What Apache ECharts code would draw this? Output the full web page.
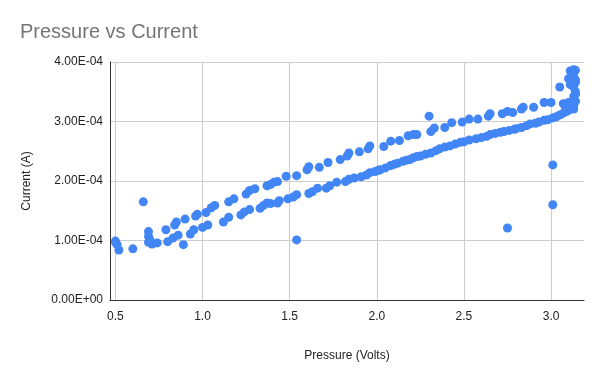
<!DOCTYPE html>
<html>
<head>
<meta charset="utf-8">
<script src="https://cdn.jsdelivr.net/npm/echarts@6/dist/echarts.min.js"></script>
<style>
html,body{margin:0;padding:0;background:#fff;}
#chart{width:600px;height:371px;}
</style>
</head>
<body>
<div id="chart"></div>
<script>
const titleText = 'Pressure vs Current';
const xAxisName = 'Pressure (Volts)';
const yAxisName = 'Current (A)';

const pressure = [
  0.50,0.51,0.52,0.50,0.60,0.66,0.69,0.69,0.69,0.71,0.70,0.74,0.79,0.80,0.83,0.84,0.85,0.86,0.89,0.90,
  0.93,0.95,0.96,0.97,1.00,1.02,1.03,1.05,1.07,1.12,1.15,1.15,1.18,1.22,1.24,1.25,1.27,1.27,1.30,1.33,
  1.35,1.37,1.37,1.39,1.39,1.41,1.43,1.43,1.44,1.48,1.49,1.52,1.54,1.54,1.54,1.60,1.61,1.61,1.63,1.66,
  1.67,1.71,1.72,1.73,1.77,1.79,1.82,1.83,1.84,1.84,1.87,1.90,1.91,1.94,1.95,1.96,1.96,1.99,2.01,2.02,
  2.04,2.05,2.08,2.08,2.10,2.12,2.13,2.15,2.17,2.18,2.19,2.21,2.21,2.23,2.23,2.25,2.28,2.30,2.31,2.31,
  2.33,2.34,2.36,2.39,2.39,2.42,2.43,2.45,2.49,2.48,2.50,2.53,2.53,2.57,2.58,2.60,2.63,2.64,2.65,2.65,
  2.68,2.71,2.72,2.73,2.75,2.75,2.76,2.78,2.79,2.80,2.83,2.84,2.83,2.86,2.88,2.90,2.91,2.93,2.96,2.96,
  2.98,3.00,3.01,3.01,3.01,3.03,3.05,3.05,3.07,3.07,3.09,3.10,3.10,3.11,3.12,3.11,3.12,3.13,3.13,3.13,
  3.14,3.13,3.14,3.13,3.14,3.13,3.14,3.13,3.14,3.13,3.14,3.12,3.08,3.10,3.11
];

const current = [
  0.99e-4,0.93e-4,0.84e-4,0.97e-4,0.86e-4,1.65e-4,1.15e-4,1.07e-4,0.97e-4,0.94e-4,1.00e-4,0.96e-4,1.18e-4,0.98e-4,1.04e-4,1.26e-4,1.31e-4,1.09e-4,0.93e-4,1.36e-4,
  1.11e-4,1.18e-4,1.41e-4,1.44e-4,1.22e-4,1.47e-4,1.26e-4,1.55e-4,1.59e-4,1.31e-4,1.39e-4,1.65e-4,1.70e-4,1.43e-4,1.48e-4,1.78e-4,1.52e-4,1.84e-4,1.87e-4,1.54e-4,
  1.59e-4,1.92e-4,1.63e-4,1.62e-4,1.94e-4,1.98e-4,1.63e-4,1.99e-4,1.67e-4,2.08e-4,1.70e-4,1.73e-4,1.77e-4,2.09e-4,1.01e-4,2.19e-4,2.24e-4,1.79e-4,1.82e-4,1.88e-4,
  2.23e-4,1.88e-4,2.31e-4,1.92e-4,1.98e-4,2.36e-4,1.99e-4,2.42e-4,2.47e-4,2.03e-4,2.05e-4,2.49e-4,2.07e-4,2.10e-4,2.54e-4,2.59e-4,2.14e-4,2.16e-4,2.18e-4,2.19e-4,
  2.58e-4,2.22e-4,2.67e-4,2.26e-4,2.28e-4,2.30e-4,2.68e-4,2.33e-4,2.35e-4,2.76e-4,2.36e-4,2.78e-4,2.39e-4,2.41e-4,2.78e-4,2.42e-4,2.45e-4,3.09e-4,2.47e-4,2.83e-4,
  2.89e-4,2.51e-4,2.54e-4,2.90e-4,2.57e-4,2.59e-4,2.98e-4,2.62e-4,2.99e-4,2.65e-4,2.66e-4,3.04e-4,2.69e-4,2.71e-4,3.04e-4,2.73e-4,2.75e-4,3.09e-4,3.13e-4,2.78e-4,
  2.80e-4,2.82e-4,3.13e-4,2.83e-4,3.17e-4,1.21e-4,2.85e-4,3.15e-4,2.87e-4,2.88e-4,3.21e-4,3.24e-4,2.90e-4,2.93e-4,2.96e-4,3.24e-4,2.97e-4,2.99e-4,3.32e-4,3.02e-4,
  3.03e-4,3.32e-4,3.06e-4,1.60e-4,2.27e-4,3.08e-4,3.58e-4,3.11e-4,3.14e-4,3.30e-4,3.17e-4,3.32e-4,3.19e-4,3.22e-4,3.25e-4,3.85e-4,3.80e-4,3.87e-4,3.21e-4,3.82e-4,
  3.86e-4,3.74e-4,3.66e-4,3.58e-4,3.50e-4,3.42e-4,3.34e-4,3.27e-4,3.70e-4,3.62e-4,3.46e-4,3.28e-4,3.26e-4,3.72e-4,3.62e-4
];

const yTicks = [0, 1e-4, 2e-4, 3e-4, 4e-4];

function sciLabel(v) {
  if (Math.abs(v) < 1e-12) return '0.00E+00';
  const parts = v.toExponential(2).split('e');
  const n = parseInt(parts[1], 10);
  return parts[0] + 'E' + (n < 0 ? '-' : '+') + String(Math.abs(n)).padStart(2, '0');
}

const points = pressure.map((p, i) => [p, current[i]]);
const FONT = '"Liberation Sans", Arial, sans-serif';

const chart = echarts.init(document.getElementById('chart'), null, {renderer: 'canvas'});
chart.setOption({
  animation: false,
  backgroundColor: '#ffffff',
  title: {
    text: titleText,
    left: 20,
    top: 22,
    padding: 0,
    textStyle: {color: '#757575', fontSize: 20, fontWeight: 'normal', fontFamily: FONT}
  },
  grid: {left: 110, right: 16, top: 62, bottom: 71, containLabel: false},
  xAxis: {
    type: 'value',
    min: 0.469,
    max: 3.189,
    splitNumber: 5,
    minInterval: 0.5,
    maxInterval: 0.5,
    name: xAxisName,
    nameLocation: 'middle',
    nameGap: 50,
    nameTextStyle: {color: '#222', fontSize: 12, fontFamily: FONT},
    axisLine: {show: true, onZero: false, lineStyle: {color: '#333', width: 1}},
    axisTick: {show: false},
    axisLabel: {
      color: '#222', fontSize: 12, fontFamily: FONT, margin: 11,
      showMinLabel: false, showMaxLabel: false,
      formatter: v => v.toFixed(1)
    },
    splitLine: {show: true, showMinLine: false, showMaxLine: false, lineStyle: {color: '#cccccc', width: 1}}
  },
  yAxis: {
    type: 'value',
    min: yTicks[0],
    max: yTicks[yTicks.length - 1],
    interval: yTicks[1] - yTicks[0],
    name: yAxisName,
    nameLocation: 'middle',
    nameGap: 77,
    nameRotate: 90,
    nameTextStyle: {color: '#222', fontSize: 12, fontFamily: FONT},
    axisLine: {show: true, lineStyle: {color: '#333', width: 1}},
    axisTick: {show: false},
    axisLabel: {color: '#222', fontSize: 12, fontFamily: FONT, margin: 7, formatter: sciLabel},
    splitLine: {show: true, lineStyle: {color: '#cccccc', width: 1}}
  },
  series: [{
    type: 'scatter',
    data: points,
    symbol: 'circle',
    symbolSize: 9,
    itemStyle: {color: '#4285F4', opacity: 1},
    emphasis: {disabled: true}
  }]
});
</script>
</body>
</html>
